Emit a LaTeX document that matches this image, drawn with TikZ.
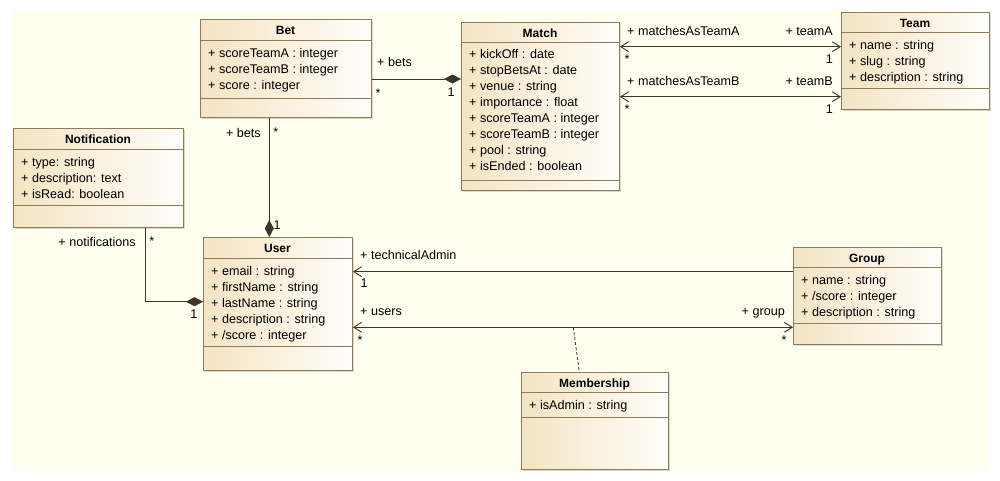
\documentclass[tikz,border=0pt]{standalone}
\usepackage{fontspec}
\setmainfont{Liberation Sans}
\usetikzlibrary{arrows.meta,shadows}
\definecolor{bg}{HTML}{FFFFF0}
\definecolor{boxl}{HTML}{F4E4C4}
\definecolor{boxr}{HTML}{FFFEFA}
\definecolor{boxborder}{HTML}{8E7C58}
\definecolor{conn}{HTML}{3D3424}
\tikzset{
  classbox/.style={draw=boxborder, line width=0.9pt, left color=boxl, right color=boxr,
    inner sep=0pt, drop shadow={shadow xshift=2pt, shadow yshift=-2pt, fill=black, opacity=0.15}},
  sepline/.style={draw=boxborder, line width=0.9pt},
  titletext/.style={font=\fontsize{12}{14}\selectfont\bfseries, inner sep=0pt},
  attrtext/.style={font=\fontsize{12.6}{16}\selectfont, inner sep=0pt},
  lbl/.style={font=\fontsize{12.6}{16}\selectfont, inner sep=0pt},
  assoc/.style={draw=conn, line width=0.9pt},
  barb/.tip={Straight Barb[length=8pt,width=10pt,line width=0.9pt]},
  diam/.tip={Diamond[length=17pt,width=9pt]},
}
\newcommand{\umlclass}[8]{%
  \node[classbox, minimum width={#4-#2}, minimum height={#5-#3}, anchor=north west] (#1) at (#2,#3) {};
  \draw[sepline] (#1.west |- 0,#6) -- (#1.east |- 0,#6);
  \draw[sepline] (#1.west |- 0,#7) -- (#1.east |- 0,#7);
  \node[titletext, anchor=base] (#1-title) at ({(#2+#4)/2},{#3+15}) {#8};
}
\newcommand{\umlattrs}[4]{%
  \foreach \t [count=\i from 0] in {#4} {
    \node[attrtext, anchor=base west] (#1-a\i) at (#2,{#3+16*\i}) {\t};
  }
}
\begin{document}
\begin{tikzpicture}[x=1pt,y=-1pt]
\useasboundingbox (0,0) rectangle (1000,480);
\fill[bg] (12,10) rectangle (990,471);

% classes
\umlclass{bet}{200}{19}{371}{117}{40}{98}{Bet}
\umlattrs{bet}{208}{57}{+ scoreTeamA : integer,+ scoreTeamB : integer,+ score : integer}

\umlclass{match}{461}{22}{619}{190}{42}{180}{Match}
\umlattrs{match}{469}{58}{+ kickOff : date,+ stopBetsAt : date,+ venue : string,+ importance : float,+ scoreTeamA : integer,+ scoreTeamB : integer,+ pool : string,+ isEnded : boolean}

\umlclass{team}{841}{12}{989}{109}{32}{88}{Team}
\umlattrs{team}{849}{49}{+ name : string,+ slug : string,+ description : string}

\umlclass{notif}{13}{128}{183}{227}{149}{205}{Notification}
\umlattrs{notif}{21}{166}{+ type: string,+ description: text,+ isRead: boolean}

\umlclass{user}{203}{237}{352}{370}{258}{346}{User}
\umlattrs{user}{211}{275}{+ email : string,+ firstName : string,+ lastName : string,+ description : string,+ /score : integer}

\umlclass{group}{793}{247}{941}{344}{267}{323}{Group}
\umlattrs{group}{801}{284}{+ name : string,+ /score : integer,+ description : string}

\umlclass{member}{521}{372}{668}{469}{392}{417}{Membership}
\umlattrs{member}{529}{409}{+ isAdmin : string}

% connectors
\draw[assoc, -diam] (bet.east |- 0,79) -- (match.west |- 0,79);
\draw[assoc, barb-barb] (match.east |- 0,46.7) -- (team.west |- 0,46.7);
\draw[assoc, barb-barb] (match.east |- 0,96.7) -- (team.west |- 0,96.7);
\draw[assoc, -diam] (bet.south -| 269.3,0) -- (user.north -| 269.3,0);
\draw[assoc, -diam] (notif.south -| 145.7,0) |- (user.west |- 0,301.7);
\draw[assoc, -barb] (group.west |- 0,271.7) -- (user.east |- 0,271.7);
\draw[assoc, barb-barb] (user.east |- 0,327.3) -- (group.west |- 0,327.3);
\coordinate (memb-pt) at (573.3,327.3);
\draw[draw=conn, line width=0.8pt, dash pattern=on 3pt off 2pt] (memb-pt) -- (member.north -| 579.3,0);

% labels
\node[lbl, anchor=base west] (l-bets1) at (377,66.7) {+ bets};
\node[lbl, anchor=base] (l-bets1m) at (378,97) {*};
\node[lbl, anchor=base] (l-bets1o) at (451,96) {1};

\node[lbl, anchor=base west] (l-mA) at (627,35) {+ matchesAsTeamA};
\node[lbl, anchor=base] (l-mAm) at (627,63) {*};
\node[lbl, anchor=base east] (l-tA) at (833,35) {+ teamA};
\node[lbl, anchor=base east] (l-tAm) at (833,63.5) {1};

\node[lbl, anchor=base west] (l-mB) at (627,85) {+ matchesAsTeamB};
\node[lbl, anchor=base] (l-mBm) at (627,113.5) {*};
\node[lbl, anchor=base east] (l-tB) at (833,85) {+ teamB};
\node[lbl, anchor=base east] (l-tBm) at (833,113) {1};

\node[lbl, anchor=base east] (l-bets2) at (261,137.3) {+ bets};
\node[lbl, anchor=base] (l-bets2m) at (275.7,136) {*};
\node[lbl, anchor=base] (l-bets2o) at (277,229) {1};

\node[lbl, anchor=base east] (l-notif) at (136,246.7) {+ notifications};
\node[lbl, anchor=base] (l-notifm) at (151.7,245) {*};
\node[lbl, anchor=base] (l-notifo) at (194,318) {1};

\node[lbl, anchor=base west] (l-tech) at (360,259.3) {+ technicalAdmin};
\node[lbl, anchor=base] (l-techo) at (364,287.3) {1};

\node[lbl, anchor=base west] (l-users) at (360,315.7) {+ users};
\node[lbl, anchor=base] (l-usersm) at (360,344) {*};
\node[lbl, anchor=base east] (l-group) at (785,315.7) {+ group};
\node[lbl, anchor=base] (l-groupm) at (784,344) {*};
\end{tikzpicture}
\end{document}
